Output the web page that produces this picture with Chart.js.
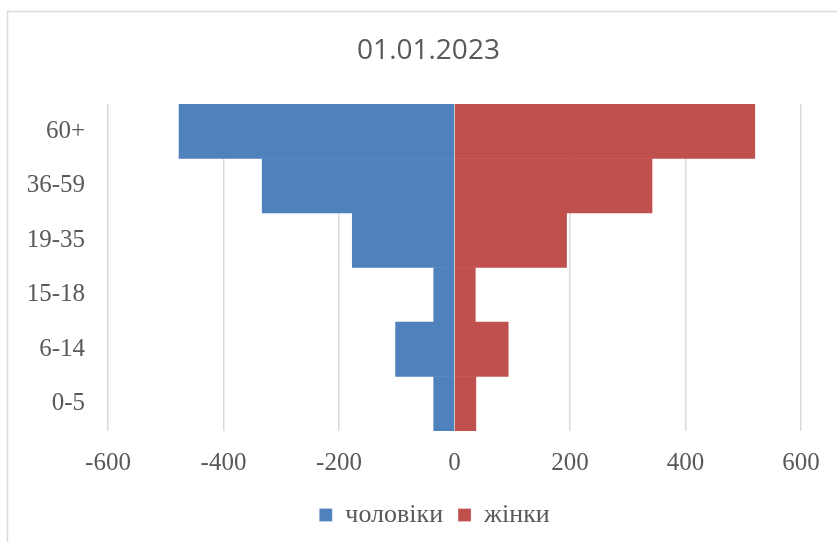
<!DOCTYPE html>
<html lang="uk">
<head>
<meta charset="utf-8">
<title>01.01.2023</title>
<style>
  html, body { margin: 0; padding: 0; background: #fff; }
  #wrap { position: relative; width: 837px; height: 542px; }
</style>
</head>
<body>
<div id="wrap">
  <canvas id="myChart" width="837" height="542"></canvas>
</div>
<script src="https://cdn.jsdelivr.net/npm/chart.js"></script>
<script>
// age groups, top to bottom
const ageGroups = ['60+', '36-59', '19-35', '15-18', '6-14', '0-5'];
// men shown as negative values (left side)
const men = [-477, -333, -177, -36, -102, -36];
const women = [520, 342, 194, 36, 93, 37];
const xTicks = [-600, -400, -200, 0, 200, 400, 600];
const chartTitle = '01.01.2023';

const textColor = '#595959';
const serif = "'Liberation Serif', 'DejaVu Serif', serif";

// light frame around the chart + title centred on the whole frame
const framePlugin = {
  id: 'frame',
  afterLayout(chart) {
    // legend is centred on the whole frame, not on the padded area
    chart.legend.left += 34;
    chart.legend.right += 34;
  },
  beforeDraw(chart) {
    const c = chart.ctx;
    c.save();
    c.strokeStyle = '#d9d9d9';
    c.lineWidth = 1.5;
    c.strokeRect(7.5, 11.5, chart.width + 20, chart.height + 20);
    c.restore();
  },
  afterDraw(chart) {
    const c = chart.ctx;
    c.save();
    c.fillStyle = textColor;
    c.font = "28px 'Open Sans', 'Liberation Sans', sans-serif";
    c.textAlign = 'center';
    c.textBaseline = 'middle';
    c.fillText(chartTitle, 428.5, 51);
    c.restore();
  }
};

const data = {
  labels: ageGroups,
  datasets: [
    {
      label: 'чоловіки',
      data: men,
      backgroundColor: '#4f81bd',
      borderColor: '#ffffff',
      borderWidth: { right: 1 }
    },
    {
      label: 'жінки',
      data: women,
      backgroundColor: '#c0504d',
      borderColor: '#ffffff',
      borderWidth: { left: 1 }
    }
  ]
};

const config = {
  type: 'bar',
  data,
  options: {
    indexAxis: 'y',
    responsive: false,
    animation: false,
    categoryPercentage: 1,
    barPercentage: 1,
    layout: { padding: { left: 0, right: 36, top: 104, bottom: 4 } },
    scales: {
      x: {
        stacked: true,
        min: -600,
        max: 600,
        afterBuildTicks(axis) {
          axis.ticks = xTicks.map(v => ({ value: v }));
        },
        afterFit(axis) { axis.height = 56; },
        grid: { color: '#d9d9d9', lineWidth: 1.5, drawTicks: false },
        border: { display: false },
        ticks: {
          color: textColor,
          font: { family: serif, size: 25 },
          padding: 17
        }
      },
      y: {
        stacked: true,
        grid: { display: false, drawTicks: false },
        border: { display: false },
        afterFit(axis) { axis.width = 108; },
        ticks: {
          color: textColor,
          font: { family: serif, size: 25 },
          padding: 23
        }
      }
    },
    plugins: {
      title: { display: false },
      legend: {
        position: 'bottom',
        labels: {
          color: textColor,
          font: { family: serif, size: 26 },
          boxWidth: 13,
          boxHeight: 13,
          padding: 15
        }
      },
      tooltip: { enabled: false }
    }
  },
  plugins: [framePlugin]
};

new Chart(document.getElementById('myChart'), config);
</script>
</body>
</html>
